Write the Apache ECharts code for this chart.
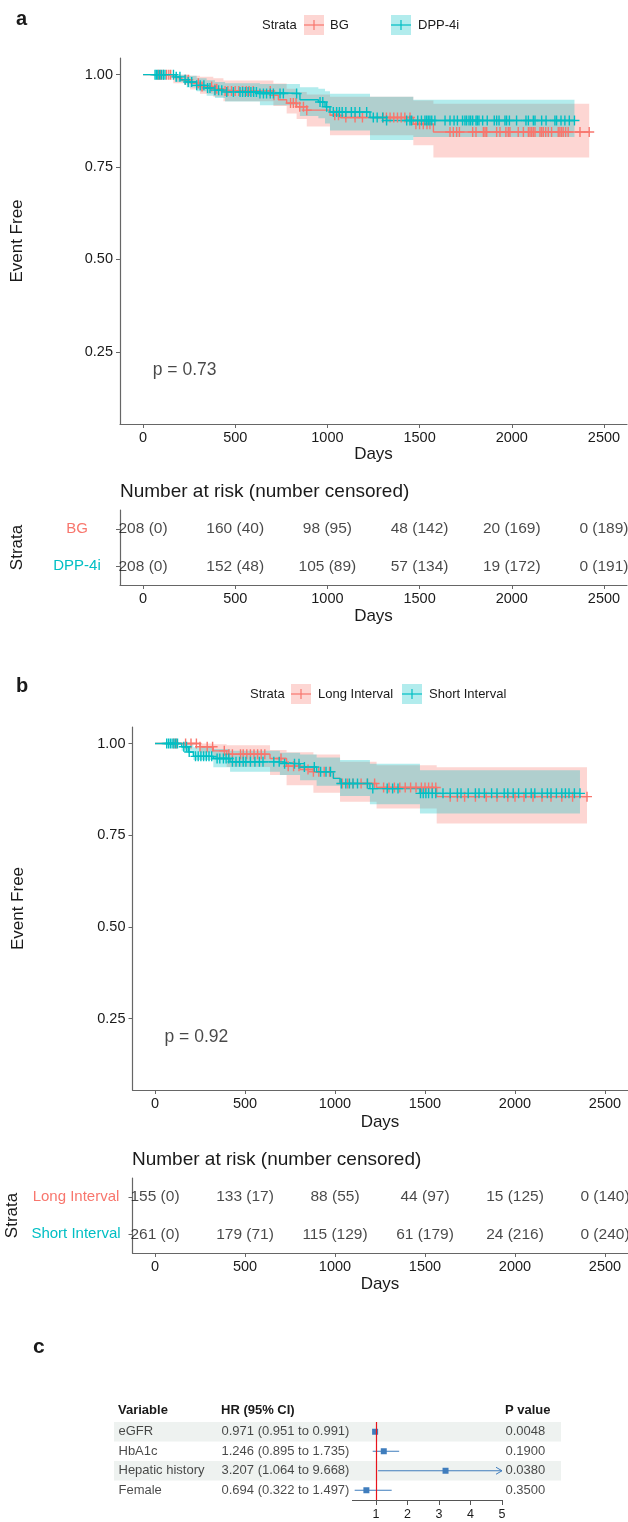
<!DOCTYPE html>
<html>
<head>
<meta charset="utf-8">
<script src="https://cdn.jsdelivr.net/npm/echarts@6/dist/echarts.min.js"></script>
<style>
  html, body { margin: 0; padding: 0; background: #fff; }
  #chart { width: 628px; height: 1522px; }
</style>
</head>
<body>
<div id="chart"></div>
<script>
const RED = '#F8766D';
const TEAL = '#00BFC4';
const RED_FILL = 'rgba(248,118,109,0.3)';
const TEAL_FILL = 'rgba(0,191,196,0.3)';
const BLUE = '#3f7dbd';
const FONT = '"Liberation Sans", Arial, Helvetica, sans-serif';
const INK = '#1a1a1a';
const AXIS = '#666';

// shared ticks
const dayTicks = [0, 500, 1000, 1500, 2000, 2500];
const survTicks = [0.25, 0.5, 0.75, 1];

// ---- panel a : BG vs DPP-4i ----
const strataA = ['BG', 'DPP-4i'];
const kmBG = [[0,1],[164,0.992],[210,0.986],[255,0.977],[309,0.968],[381,0.962],[436,0.956],[707,0.944],[734,0.932],[779,0.923],[833,0.913],[888,0.904],[1014,0.89],[1068,0.884],[1466,0.866],[1575,0.845]];
const endBG = 2420;
const bandBG = [[0,1,1],[164,0.977,1],[255,0.96,0.997],[309,0.948,0.994],[381,0.94,0.99],[436,0.928,0.984],[707,0.915,0.976],[779,0.895,0.962],[833,0.88,0.953],[888,0.86,0.946],[1014,0.836,0.94],[1466,0.809,0.93],[1575,0.776,0.921]];
const censBG = [83,95,110,128,140,150,230,245,300,320,372,390,400,445,460,480,500,520,540,560,575,598,690,710,800,815,830,850,870,888,1040,1060,1100,1150,1190,1303,1320,1340,1360,1380,1400,1420,1448,1480,1500,1520,1540,1556,1665,1683,1701,1716,1788,1806,1846,1855,1864,1918,1936,1968,1981,1990,2035,2063,2090,2099,2108,2117,2126,2153,2162,2171,2184,2198,2216,2252,2261,2270,2279,2292,2306,2370,2420];

const kmDPP = [[0,1],[174,0.994],[201,0.986],[237,0.98],[291,0.971],[345,0.964],[390,0.958],[445,0.953],[634,0.949],[851,0.932],[951,0.926],[987,0.913],[1014,0.899],[1231,0.884],[1321,0.876]];
const endDPP = 2340;
const bandDPP = [[0,1,1],[174,0.98,1],[237,0.965,0.997],[291,0.955,0.99],[345,0.943,0.985],[390,0.937,0.98],[445,0.927,0.977],[634,0.917,0.975],[851,0.888,0.966],[951,0.882,0.962],[987,0.868,0.955],[1014,0.849,0.948],[1231,0.823,0.94],[1466,0.831,0.932]];
const censDPP = [65,72,80,90,100,110,119,165,180,200,228,245,264,291,310,330,350,363,390,410,427,454,490,526,540,555,570,585,600,615,634,653,670,690,707,743,761,833,960,975,996,1032,1050,1065,1080,1100,1130,1150,1175,1213,1249,1270,1300,1321,1430,1448,1457,1490,1510,1529,1538,1547,1556,1566,1583,1638,1665,1687,1705,1733,1746,1755,1768,1777,1788,1806,1813,1822,1842,1867,1905,1918,1931,1963,1972,1987,2026,2077,2090,2117,2126,2162,2186,2234,2243,2267,2288,2312,2340];

const riskBG = [208, 160, 98, 48, 20, 0];
const censNumBG = [0, 40, 95, 142, 169, 189];
const riskDPP = [208, 152, 105, 57, 19, 0];
const censNumDPP = [0, 48, 89, 134, 172, 191];
const pTextA = 'p = 0.73';

// ---- panel b : Long vs Short interval ----
const strataB = ['Long Interval', 'Short Interval'];
const kmLong = [[0,1],[250,0.991],[324,0.98],[398,0.971],[639,0.959],[731,0.938],[806,0.929],[880,0.923],[991,0.905],[1028,0.891],[1231,0.88],[1565,0.855]];
const endLong = 2400;
const bandLong = [[0,1,1],[250,0.975,1],[324,0.96,0.998],[398,0.936,0.995],[639,0.914,0.982],[731,0.886,0.976],[880,0.866,0.97],[1028,0.841,0.95],[1231,0.823,0.941],[1565,0.782,0.935]];
const censLong = [105,118,170,200,230,250,290,320,385,410,430,475,490,510,530,550,570,590,610,700,740,770,800,850,880,910,940,970,1040,1070,1100,1145,1180,1220,1270,1300,1330,1360,1390,1420,1450,1480,1500,1520,1540,1560,1640,1680,1720,1780,1840,1900,1960,2000,2050,2100,2150,2200,2260,2320,2400];

const kmShort = [[0,1],[148,0.991],[185,0.977],[213,0.965],[324,0.959],[417,0.95],[694,0.945],[806,0.936],[898,0.923],[991,0.905],[1028,0.891],[1194,0.877],[1472,0.864]];
const endShort = 2361;
const bandShort = [[0,1,1],[148,0.98,1],[213,0.955,0.99],[324,0.935,0.985],[417,0.923,0.98],[694,0.914,0.975],[806,0.9,0.97],[898,0.885,0.962],[1028,0.857,0.955],[1194,0.834,0.945],[1472,0.809,0.927]];
const censShort = [65,75,85,95,105,115,125,160,175,190,225,240,255,270,285,300,315,345,360,380,395,410,430,450,470,490,505,530,555,580,600,660,690,720,775,800,830,885,920,950,975,1035,1060,1080,1100,1125,1180,1210,1290,1320,1350,1475,1490,1505,1520,1540,1560,1600,1640,1680,1700,1740,1780,1800,1830,1870,1900,1940,1960,1990,2020,2060,2090,2110,2150,2180,2200,2230,2260,2280,2300,2330,2361];

const riskLong = [155, 133, 88, 44, 15, 0];
const censNumLong = [0, 17, 55, 97, 125, 140];
const riskShort = [261, 179, 115, 61, 24, 0];
const censNumShort = [0, 71, 129, 179, 216, 240];
const pTextB = 'p = 0.92';
const pCoord = [50, 0.2];

// ---- panel c : forest plot ----
const fVars = ['eGFR', 'HbA1c', 'Hepatic history', 'Female'];
const fHR = [0.971, 1.246, 3.207, 0.694];
const fLo = [0.951, 0.895, 1.064, 0.322];
const fHi = [0.991, 1.735, 9.668, 1.497];
const fP = ['0.0048', '0.1900', '0.0380', '0.3500'];
const fTicks = [1, 2, 3, 4, 5];
const fMin = 0.25, fMax = 5;

// ---------- helpers ----------
function survAt(curve, t) {
  let s = curve[0][1];
  for (const [ti, si] of curve) if (ti <= t) s = si;
  return s;
}

const plain = v => String(v);

function kmAxes(grid, nameGap, dayGap) {
  const x = {
    type: 'value', gridIndex: grid, min: -125, max: 2625,
    axisLine: { show: true, onZero: false, lineStyle: { color: AXIS, width: 1.2 } },
    axisTick: { show: true, customValues: dayTicks, length: 4, lineStyle: { color: AXIS } },
    axisLabel: { customValues: dayTicks, formatter: plain, color: INK, fontSize: 14.5, fontFamily: FONT, margin: 6 },
    splitLine: { show: false },
    name: 'Days', nameLocation: 'middle', nameGap: dayGap,
    nameTextStyle: { color: INK, fontSize: 17, fontFamily: FONT }
  };
  const y = {
    type: 'value', gridIndex: grid, min: 0.055, max: 1.045,
    axisLine: { show: true, onZero: false, lineStyle: { color: AXIS, width: 1.2 } },
    axisTick: { show: true, customValues: survTicks, length: 4, lineStyle: { color: AXIS } },
    axisLabel: { customValues: survTicks, formatter: v => v.toFixed(2), color: INK, fontSize: 14.5, fontFamily: FONT, margin: 7 },
    splitLine: { show: false },
    name: 'Event Free', nameLocation: 'middle', nameRotate: 90, nameGap: nameGap,
    nameTextStyle: { color: INK, fontSize: 17, fontFamily: FONT }
  };
  return [x, y];
}

function riskAxes(grid, strata, labelMargin, nameGap) {
  const x = {
    type: 'value', gridIndex: grid, min: -125, max: 2625,
    axisLine: { show: true, onZero: false, lineStyle: { color: AXIS, width: 1.2 } },
    axisTick: { show: true, customValues: dayTicks, length: 4, lineStyle: { color: AXIS } },
    axisLabel: { customValues: dayTicks, formatter: plain, color: INK, fontSize: 14.5, fontFamily: FONT, margin: 6 },
    splitLine: { show: false },
    name: 'Days', nameLocation: 'middle', nameGap: 23,
    nameTextStyle: { color: INK, fontSize: 17, fontFamily: FONT }
  };
  const y = {
    type: 'category', gridIndex: grid, data: strata, inverse: true,
    axisLine: { show: true, onZero: false, lineStyle: { color: AXIS, width: 1.2 } },
    axisTick: { show: true, alignWithLabel: true, length: 4, lineStyle: { color: AXIS } },
    axisLabel: { color: (v, i) => (i === 0 ? RED : TEAL), align: 'center', fontSize: 15, fontFamily: FONT, margin: labelMargin },
    splitLine: { show: false },
    name: 'Strata', nameLocation: 'middle', nameRotate: 90, nameGap: nameGap,
    nameTextStyle: { color: INK, fontSize: 17, fontFamily: FONT }
  };
  return [x, y];
}

function bandSeries(ai, band, end, fill) {
  return {
    type: 'custom', xAxisIndex: ai, yAxisIndex: ai, silent: true, z: 1,
    data: [[0, 1]],
    renderItem: (params, api) => {
      const up = [], dn = [];
      band.forEach((b, i) => {
        const t1 = i + 1 < band.length ? band[i + 1][0] : end;
        up.push(api.coord([b[0], b[2]]), api.coord([t1, b[2]]));
        dn.push(api.coord([b[0], b[1]]), api.coord([t1, b[1]]));
      });
      return { type: 'polygon', shape: { points: up.concat(dn.reverse()) }, style: { fill: fill } };
    }
  };
}

function lineSeries(ai, curve, end, color) {
  return {
    type: 'line', xAxisIndex: ai, yAxisIndex: ai, step: 'end', showSymbol: false, silent: true, z: 2,
    data: curve.concat([[end, curve[curve.length - 1][1]]]),
    lineStyle: { color: color, width: 1.4 }
  };
}

const PLUS = 'path://M4.3,0H5.7V4.3H10V5.7H5.7V10H4.3V5.7H0V4.3H4.3Z';
function censorSeries(ai, curve, times, color) {
  return {
    type: 'scatter', xAxisIndex: ai, yAxisIndex: ai, silent: true, z: 3,
    symbol: PLUS, symbolSize: 10,
    data: times.map(t => [t, survAt(curve, t)]),
    itemStyle: { color: color, opacity: 1 }
  };
}

function textSeries(ai, data, opts) {
  return {
    type: 'scatter', xAxisIndex: ai, yAxisIndex: ai, silent: true, z: 4,
    symbolSize: 1, itemStyle: { color: 'rgba(0,0,0,0)' },
    data: data,
    label: Object.assign({ show: true, formatter: p => p.data[2], color: INK, fontFamily: FONT }, opts)
  };
}

function riskRows(ai, atRisk, cens, row) {
  return textSeries(ai, dayTicks.map((t, i) => [t, row, atRisk[i] + ' (' + cens[i] + ')']),
    { position: 'inside', fontSize: 15.5 });
}

function txt(x, y, text, size, opts) {
  opts = opts || {};
  return {
    type: 'text', x: x, y: y, silent: true,
    style: {
      text: text, fontSize: size, fontFamily: FONT, fontWeight: opts.bold ? 'bold' : 'normal',
      fill: opts.color || INK, align: opts.align || 'left', verticalAlign: 'middle',
      textAlign: opts.align || 'left', textVerticalAlign: 'middle'
    }
  };
}

function legendKey(x, y, color, fill) {
  return [
    { type: 'rect', silent: true, shape: { x: x, y: y - 10, width: 20, height: 20 }, style: { fill: fill } },
    { type: 'line', silent: true, shape: { x1: x, y1: y, x2: x + 20, y2: y }, style: { stroke: color, lineWidth: 1.2 } },
    { type: 'line', silent: true, shape: { x1: x + 10, y1: y - 5, x2: x + 10, y2: y + 5 }, style: { stroke: color, lineWidth: 1.2 } }
  ];
}

// ---------- layout ----------
const gridBase = { containLabel: false, outerBoundsMode: 'none' };
const grids = [
  Object.assign({ left: 120, top: 58, width: 507, height: 366 }, gridBase),      // KM a
  Object.assign({ left: 120, top: 510, width: 507, height: 75 }, gridBase),      // risk a
  Object.assign({ left: 132.5, top: 727, width: 495, height: 363 }, gridBase),   // KM b
  Object.assign({ left: 132.5, top: 1178, width: 495, height: 75 }, gridBase),   // risk b
  Object.assign({ left: 352.4, top: 1422, width: 149.6, height: 78 }, gridBase), // forest
  Object.assign({ left: 114, top: 1422, width: 447, height: 78 }, gridBase)      // forest table
];

const [xa, ya] = kmAxes(0, 94, 22);
const [xra, yra] = riskAxes(1, strataA, 43, 94.5);
const [xb, yb] = kmAxes(2, 106, 24);
const [xrb, yrb] = riskAxes(3, strataB, 56.5, 107);

const xf = {
  type: 'value', gridIndex: 4, min: fMin, max: fMax,
  axisLine: { show: true, onZero: false, lineStyle: { color: '#555', width: 1 } },
  axisTick: { show: true, customValues: fTicks, length: 5, lineStyle: { color: '#555' } },
  axisLabel: { customValues: fTicks, color: INK, fontSize: 12.5, fontFamily: FONT, margin: 8 },
  splitLine: { show: false }
};
const yf = { type: 'category', gridIndex: 4, data: fVars, inverse: true, show: false };
const xt = { type: 'value', gridIndex: 5, min: 0, max: 447, show: false };
const yt = { type: 'category', gridIndex: 5, data: fVars, inverse: true, show: false };

const series = [
  // panel a
  bandSeries(0, bandBG, endBG, RED_FILL),
  bandSeries(0, bandDPP, endDPP, TEAL_FILL),
  lineSeries(0, kmBG, endBG, RED),
  lineSeries(0, kmDPP, endDPP, TEAL),
  censorSeries(0, kmBG, censBG, RED),
  censorSeries(0, kmDPP, censDPP, TEAL),
  textSeries(0, [[pCoord[0], pCoord[1], pTextA]], { position: 'right', distance: 0, fontSize: 17.5 }),
  riskRows(1, riskBG, censNumBG, 0),
  riskRows(1, riskDPP, censNumDPP, 1),
  // panel b
  bandSeries(2, bandLong, endLong, RED_FILL),
  bandSeries(2, bandShort, endShort, TEAL_FILL),
  lineSeries(2, kmLong, endLong, RED),
  lineSeries(2, kmShort, endShort, TEAL),
  censorSeries(2, kmLong, censLong, RED),
  censorSeries(2, kmShort, censShort, TEAL),
  textSeries(2, [[pCoord[0], pCoord[1], pTextB]], { position: 'right', distance: 0, fontSize: 17.5 }),
  riskRows(3, riskLong, censNumLong, 0),
  riskRows(3, riskShort, censNumShort, 1),
  // panel c: shaded rows of the table
  {
    type: 'custom', xAxisIndex: 5, yAxisIndex: 5, silent: true, z: 0,
    data: fVars.map((v, i) => [0, i]),
    renderItem: (params, api) => {
      const i = api.value(1);
      if (i % 2 !== 0) return null;
      const c = api.coord([0, i]);
      const h = api.size([0, 1])[1];
      return { type: 'rect', shape: { x: params.coordSys.x, y: c[1] - h / 2, width: params.coordSys.width, height: h }, style: { fill: '#eef2f0' } };
    }
  },
  textSeries(5, fVars.map((v, i) => [4, i, v]), { position: 'right', distance: 0, fontSize: 13 }),
  textSeries(5, fVars.map((v, i) => [107, i, fHR[i].toFixed(3) + ' (' + fLo[i].toFixed(3) + ' to ' + fHi[i].toFixed(3) + ')']), { position: 'right', distance: 0, fontSize: 13 }),
  textSeries(5, fVars.map((v, i) => [391, i, fP[i]]), { position: 'right', distance: 0, fontSize: 13 }),
  // CI lines
  {
    type: 'custom', xAxisIndex: 4, yAxisIndex: 4, silent: true, z: 3,
    data: fVars.map((v, i) => [i, fHR[i], fLo[i], fHi[i]]),
    encode: { x: [1, 2, 3], y: 0 },
    renderItem: (params, api) => {
      const row = api.value(0);
      const hi = api.value(3);
      const a = api.coord([Math.max(api.value(2), fMin), row]);
      const b = api.coord([Math.min(hi, fMax), row]);
      const kids = [{ type: 'line', shape: { x1: a[0], y1: a[1], x2: b[0], y2: b[1] }, style: { stroke: BLUE, lineWidth: 1 } }];
      if (hi > fMax) {
        kids.push({ type: 'polyline', shape: { points: [[b[0] - 6, b[1] - 3.5], [b[0], b[1]], [b[0] - 6, b[1] + 3.5]] }, style: { stroke: BLUE, fill: null, lineWidth: 1 } });
      }
      return { type: 'group', children: kids };
    }
  },
  {
    type: 'scatter', xAxisIndex: 4, yAxisIndex: 4, silent: true, z: 4,
    symbol: 'rect', symbolSize: 6,
    data: fVars.map((v, i) => [fHR[i], i]),
    itemStyle: { color: BLUE, opacity: 1 },
    markLine: {
      silent: true, symbol: ['none', 'none'], label: { show: false },
      lineStyle: { color: '#e8141c', width: 1.2, type: 'solid' },
      data: [{ xAxis: 1 }]
    }
  }
];

const graphics = [
  txt(16, 19, 'a', 20, { bold: true }),
  txt(262, 25, 'Strata', 13),
  ...legendKey(304, 25, RED, RED_FILL),
  txt(330, 25, strataA[0], 13),
  ...legendKey(391, 25, TEAL, TEAL_FILL),
  txt(418, 25, strataA[1], 13),
  txt(120, 492, 'Number at risk (number censored)', 19),

  txt(16, 686, 'b', 20, { bold: true }),
  txt(250, 694, 'Strata', 13),
  ...legendKey(291, 694, RED, RED_FILL),
  txt(318, 694, strataB[0], 13),
  ...legendKey(402, 694, TEAL, TEAL_FILL),
  txt(429, 694, strataB[1], 13),
  txt(132, 1160, 'Number at risk (number censored)', 19),

  txt(33, 1347, 'c', 21, { bold: true }),
  txt(118, 1410, 'Variable', 13, { bold: true }),
  txt(221, 1410, 'HR (95% CI)', 13, { bold: true }),
  txt(505, 1410, 'P value', 13, { bold: true })
];

const chart = echarts.init(document.getElementById('chart'), null, { renderer: 'canvas' });
chart.setOption({
  animation: false,
  backgroundColor: '#fff',
  textStyle: { fontFamily: FONT },
  grid: grids,
  xAxis: [xa, xra, xb, xrb, xf, xt],
  yAxis: [ya, yra, yb, yrb, yf, yt],
  series: series,
  graphic: graphics
});
</script>
</body>
</html>
